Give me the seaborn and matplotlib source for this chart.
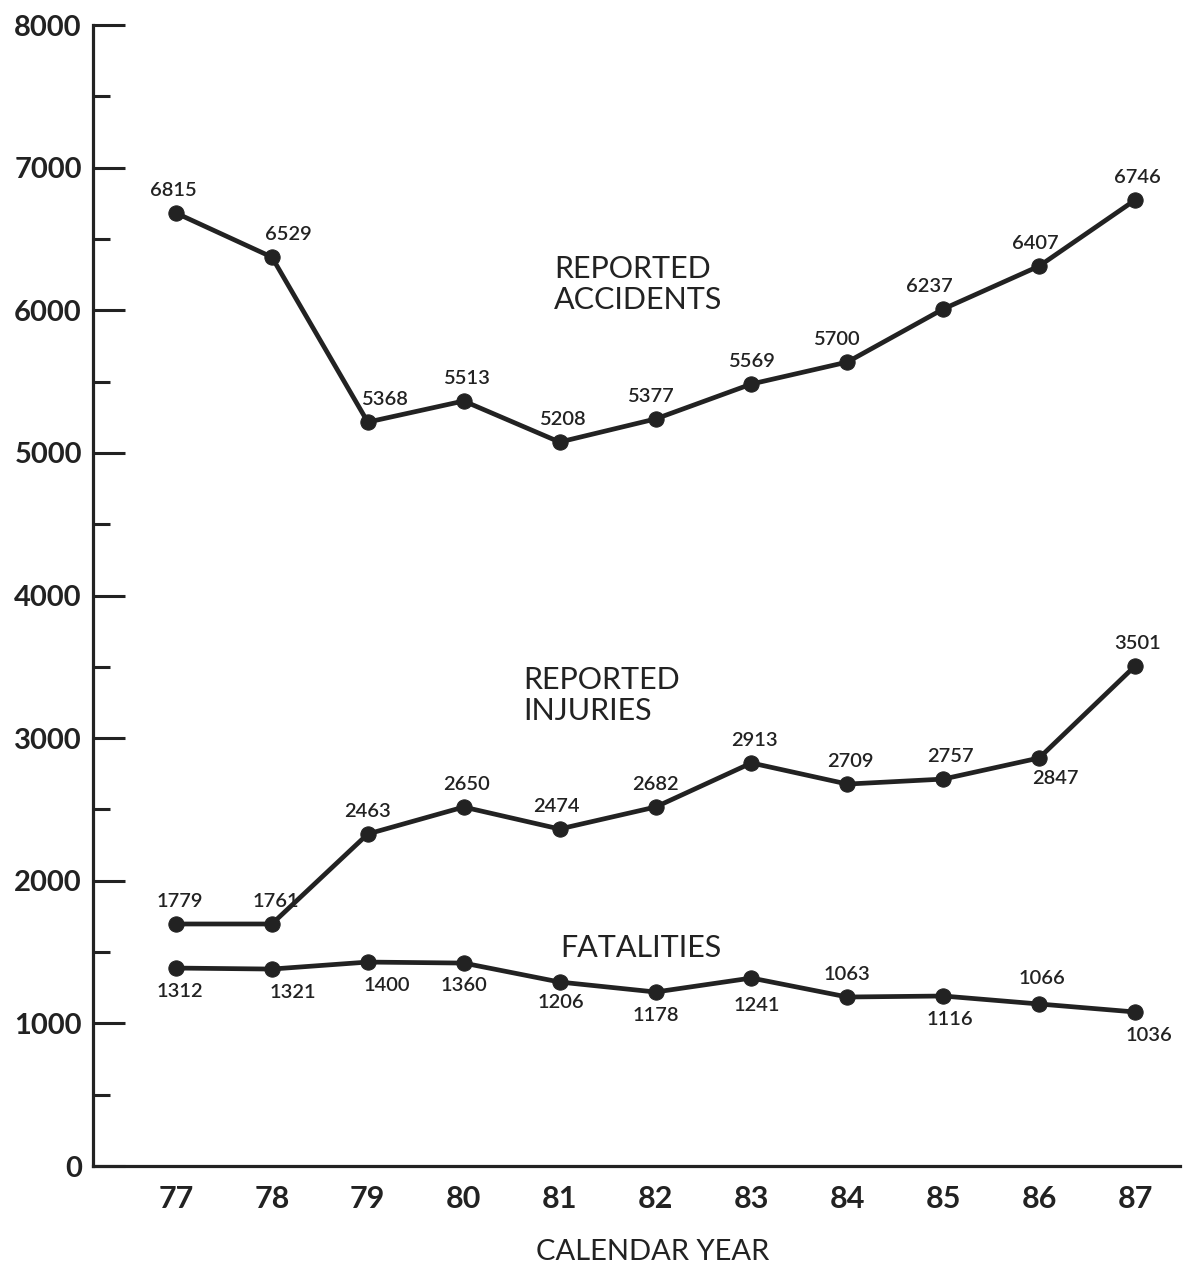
import matplotlib.pyplot as plt
import pandas as pd
import seaborn as sns
from matplotlib.ticker import MultipleLocator

# Calendar years on the x axis
years = [77, 78, 79, 80, 81, 82, 83, 84, 85, 86, 87]

# Printed values (labels next to each point)
accidents_lbl = [6815, 6529, 5368, 5513, 5208, 5377, 5569, 5700, 6237, 6407, 6746]
injuries_lbl = [1779, 1761, 2463, 2650, 2474, 2682, 2913, 2709, 2757, 2847, 3501]
fatalities_lbl = [1312, 1321, 1400, 1360, 1206, 1178, 1241, 1063, 1116, 1066, 1036]

accidents = [6682, 6373, 5216, 5364, 5076, 5238, 5483, 5637, 6009, 6310, 6773]
injuries = [1697, 1697, 2328, 2517, 2363, 2517, 2826, 2678, 2713, 2861, 3506]
fatalities = [1388, 1381, 1430, 1423, 1290, 1220, 1318, 1185, 1192, 1136, 1080]

y_ticks = [0, 1000, 2000, 3000, 4000, 5000, 6000, 7000, 8000]

sns.set_style("white")
plt.rcParams['font.family'] = ['Lato', 'DejaVu Sans']

ink = '#222222'

df = pd.DataFrame({
    'year': years * 3,
    'value': accidents + injuries + fatalities,
    'series': ['acc'] * 11 + ['inj'] * 11 + ['fat'] * 11,
})

fig = plt.figure(figsize=(11.83, 12.71), dpi=100)
ax = fig.add_axes([0.0786, 0.0826, 0.919, 0.8977])

sns.lineplot(data=df, x='year', y='value', hue='series', ax=ax,
             palette=[ink, ink, ink], marker='o', markersize=11,
             markeredgecolor=ink, linewidth=3.4, legend=False)

ax.set_xlim(76.135, 87.47)
ax.set_ylim(0, 8000)
ax.set_xticks(years)
ax.set_xticklabels([str(y) for y in years])
ax.set_yticks(y_ticks)
ax.yaxis.set_minor_locator(MultipleLocator(500))

for side in ['top', 'right']:
    ax.spines[side].set_visible(False)
for side in ['left', 'bottom']:
    ax.spines[side].set_linewidth(2.3)
    ax.spines[side].set_color(ink)

ax.tick_params(axis='y', which='major', direction='in', length=23, width=2.2,
               color=ink, labelsize=21, pad=8, left=True)
ax.tick_params(axis='y', which='minor', direction='in', length=12, width=2.2,
               color=ink, left=True)
ax.tick_params(axis='x', length=0, labelsize=22, pad=14)
for lab in ax.get_xticklabels() + ax.get_yticklabels():
    lab.set_fontweight('bold')
    lab.set_color(ink)

ax.set_xlabel('')
ax.set_ylabel('')
fig.text(0.552, 1 - 1252 / 1271, 'CALENDAR YEAR', fontsize=21, color=ink,
         ha='center', va='center')

# point labels: (dx, dy) offsets in points
acc_off = [(-2, 16), (12, 16), (12, 16), (2, 16), (2, 16), (-4, 16),
           (0, 16), (-8, 16), (-10, 16), (-3, 16), (2, 16)]
inj_off = [(3, 16), (3, 16), (0, 16), (2, 16), (-2, 16), (0, 16),
           (2, 16), (2, 16), (5, 16), (12, -15), (2, 16)]
fat_off = [(3, -17), (15, -17), (14, -17), (0, -16), (1, -15), (0, -17),
           (4, -20), (0, 16), (5, -17), (2, 18), (10, -17)]

for vals, lbls, offs in [(accidents, accidents_lbl, acc_off),
                         (injuries, injuries_lbl, inj_off),
                         (fatalities, fatalities_lbl, fat_off)]:
    for x, y, t, (dx, dy) in zip(years, vals, lbls, offs):
        ax.annotate(str(t), (x, y), xytext=(dx, dy), textcoords='offset points',
                    ha='center', va='center', fontsize=14.5, color=ink,
                    fontweight='semibold')

ax.text(80.94, 6180, 'REPORTED\nACCIDENTS', fontsize=22, color=ink,
        ha='left', va='center', linespacing=1.12)
ax.text(80.62, 3300, 'REPORTED\nINJURIES', fontsize=22, color=ink,
        ha='left', va='center', linespacing=1.12)
ax.text(81.85, 1530, 'FATALITIES', fontsize=22, color=ink,
        ha='center', va='center')

fig.savefig('out.png', dpi=100)
